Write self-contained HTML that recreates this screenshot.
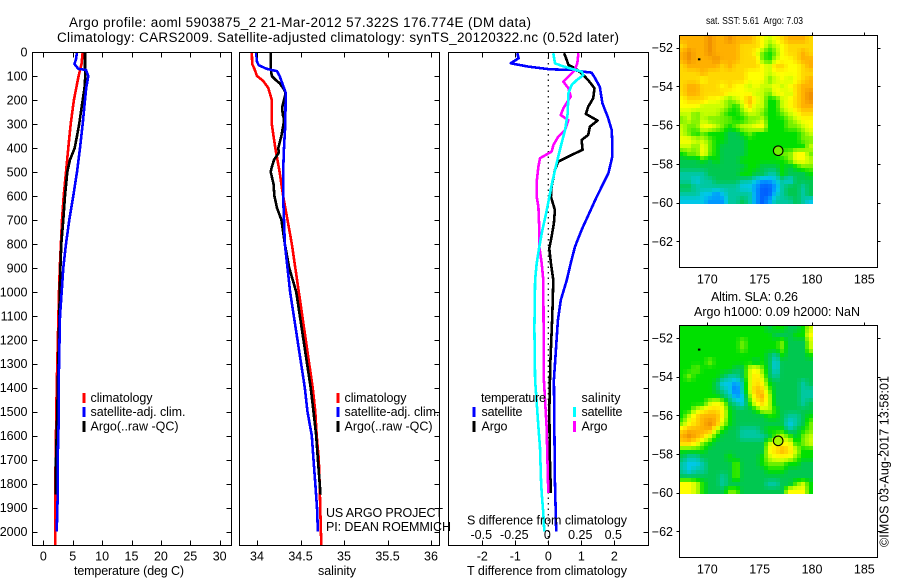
<!DOCTYPE html>
<html><head><meta charset="utf-8"><title>Argo profile</title>
<style>
html,body{margin:0;padding:0;background:#fff}
svg{display:block}
text{font-family:"Liberation Sans",sans-serif;font-size:12.5px;fill:#000}
</style></head>
<body>
<svg id="chart" width="900" height="580" viewBox="0 0 900 580" xmlns="http://www.w3.org/2000/svg">
<rect width="900" height="580" fill="#fff"/>
<text x="69" y="27" textLength="462" style="font-size:13.5px">Argo profile: aoml 5903875_2 21-Mar-2012 57.322S 176.774E (DM data)</text>
<text x="57" y="42" textLength="562" style="font-size:13.5px">Climatology: CARS2009. Satellite-adjusted climatology: synTS_20120322.nc (0.52d later)</text>
<g id="plots"></g>
<g id="maps"></g>

<text x="74" y="575" textLength="110">temperature (deg C)</text>
<text x="318" y="575" textLength="38">salinity</text>
<text x="467" y="575" textLength="160">T difference from climatology</text>
<text x="467" y="524.5" textLength="160">S difference from climatology</text>

<rect x="82.5" y="393" width="3" height="10" fill="#f00"/>
<rect x="82.5" y="407" width="3" height="10" fill="#00f"/>
<rect x="82.5" y="421" width="3" height="11" fill="#000"/>
<text x="90.5" y="402" textLength="62">climatology</text>
<text x="90.5" y="416" textLength="95">satellite-adj. clim.</text>
<text x="90.5" y="430.5" textLength="88">Argo(..raw -QC)</text>

<rect x="336.5" y="393" width="3" height="10" fill="#f00"/>
<rect x="336.5" y="407" width="3" height="10" fill="#00f"/>
<rect x="336.5" y="421" width="3" height="11" fill="#000"/>
<text x="344.5" y="402" textLength="62">climatology</text>
<text x="344.5" y="416" textLength="95">satellite-adj. clim.</text>
<text x="344.5" y="430.5" textLength="88">Argo(..raw -QC)</text>

<text x="481" y="402" textLength="65">temperature</text>
<text x="581.5" y="402" textLength="39">salinity</text>
<rect x="472.5" y="407" width="3" height="10" fill="#00f"/>
<rect x="472.5" y="421" width="3" height="11" fill="#000"/>
<rect x="573" y="407" width="3" height="10" fill="#0ff"/>
<rect x="573" y="421" width="3" height="11" fill="#f0f"/>
<text x="481.5" y="416" textLength="41">satellite</text>
<text x="481.5" y="430.5" textLength="26">Argo</text>
<text x="581.5" y="416" textLength="41">satellite</text>
<text x="581.5" y="430.5" textLength="26">Argo</text>

<text x="326" y="517" textLength="117">US ARGO PROJECT</text>
<text x="326" y="531" textLength="125">PI: DEAN ROEMMICH</text>

<text x="706" y="24" textLength="97" lengthAdjust="spacingAndGlyphs" xml:space="preserve" style="font-size:10.5px;white-space:pre">sat. SST: 5.61  Argo: 7.03</text>
<text x="711" y="301" textLength="87">Altim. SLA: 0.26</text>
<text x="694" y="316" textLength="166">Argo h1000: 0.09 h2000: NaN</text>
<text transform="translate(888.5,547) rotate(-90)" textLength="171">©IMOS 03-Aug-2017 13:58:01</text>
</svg>
<script>
// ---- depth ticks ----
const depthTicks = [0,100,200,300,400,500,600,700,800,900,1000,1100,1200,1300,1400,1500,1600,1700,1800,1900,2000];
const tempTicks = [0,5,10,15,20,25,30];
const salTicks = [34,34.5,35,35.5,36];
const salTickLabels = ['34','34.5','35','35.5','36'];
const tDiffTicks = [-2,-1,0,1,2];
const sDiffTickLabels = ['-0.5','-0.25','0','0.25','0.5'];
const sDiffTicks = [-0.5,-0.25,0,0.25,0.5];

// ---- temperature profiles (deg C) ----
const tempClimDepth = [0,50,100,200,300,400,500,600,700,800,900,1000,1400,1700,2056];
const tempClim = [6.7,6.5,6.0,5.2,4.66,4.26,3.86,3.47,3.18,3.0,2.8,2.67,2.28,2.1,2.0];
const tempSatDepth = [0,30,50,70,75,100,150,200,300,400,500,600,700,800,900,1000,1100,1400,1550,1700,1850,2000];
const tempSat = [5.73,5.56,5.3,5.95,7.26,7.65,7.3,7.1,6.7,6.24,5.73,5.1,4.43,3.86,3.4,3.13,2.84,2.6,2.6,2.45,2.45,2.28];
const tempArgoDepth = [0,75,100,150,200,250,300,350,400,450,500,600,700,800,900,1000,1500,1700,1845];
const tempArgo = [7.1,7.1,7.15,7.0,6.7,6.4,6.1,5.73,5.34,4.54,4.08,3.69,3.4,3.06,2.9,2.8,2.38,2.16,2.1];

// ---- salinity profiles ----
const salClimDepth = [0,50,70,100,120,150,200,300,350,400,500,600,700,800,900,1000,1400,1500,1600,1700,1800,2000,2056];
const salClim = [33.94,33.945,33.97,34.0,34.07,34.13,34.17,34.17,34.19,34.21,34.26,34.3,34.35,34.4,34.44,34.48,34.64,34.67,34.686,34.71,34.72,34.735,34.74];
const salSatDepth = [0,40,55,70,80,100,150,170,300,400,500,600,700,800,900,1000,1400,1500,1600,1700,1800,1900,2000];
const salSat = [33.99,34.0,34.02,34.11,34.23,34.26,34.31,34.33,34.325,34.31,34.3,34.3,34.31,34.32,34.35,34.38,34.55,34.58,34.63,34.65,34.67,34.69,34.7];
const salArgoDepth = [0,75,100,115,130,150,170,200,230,260,280,300,350,400,420,450,480,500,550,600,650,700,800,900,1000,1400,1500,1600,1700,1845];
const salArgo = [34.16,34.16,34.17,34.21,34.26,34.3,34.33,34.31,34.29,34.295,34.31,34.305,34.28,34.245,34.25,34.195,34.17,34.157,34.19,34.2,34.23,34.28,34.32,34.37,34.45,34.617,34.65,34.68,34.7,34.73];

// ---- difference profiles ----
const tDiffSatDepth = [5,26,47,61,72,75,82,86,103,145,214,270,325,381,436,506,603,742,812,881,951,1034,1118,1243,1368,1785,2000];
const tDiffSat = [-0.94,-0.9,-1.14,-0.61,0.05,0.76,1.06,1.31,1.39,1.56,1.64,1.8,1.92,1.94,1.94,1.82,1.47,1.01,0.81,0.68,0.56,0.38,0.29,0.23,0.17,0.2,0.24];
const tDiffArgoDepth = [5,26,54,68,89,117,151,193,228,258,286,311,346,367,408,429,457,492,561,603,659,714,770,819,881,951,1100,1300,1500,1700,1840];
const tDiffArgo = [0.48,0.54,0.61,0.81,1.01,1.21,1.4,1.36,1.21,1.14,1.49,1.26,1.21,1.01,1.04,0.71,0.3,0.2,0.1,0.08,0.2,0.17,0.1,0.03,0.08,0.15,0.12,0.06,0.03,0.05,0.08];
const sDiffArgoDepth = [5,47,75,89,124,151,186,235,263,284,325,353,388,415,443,478,534,603,645,742,812,881,951,1368,1563,1840];
const sDiffArgo = [0.228,0.22,0.2,0.177,0.114,0.152,0.17,0.114,0.094,0.152,0.127,0.076,0.039,0.026,-0.063,-0.075,-0.086,-0.088,-0.075,-0.068,-0.068,-0.05,-0.038,-0.033,-0.013,0.0];
const sDiffSatDepth = [5,47,58,72,82,96,117,137,172,255,325,395,464,534,603,673,742,812,881,951,1150,1368,1563,1650,1785,1840,1923,2000];
const sDiffSat = [0.038,0.051,0.102,0.19,0.253,0.266,0.215,0.177,0.152,0.147,0.127,0.094,0.063,0.033,0.008,-0.017,-0.045,-0.068,-0.088,-0.1,-0.105,-0.1,-0.075,-0.063,-0.055,-0.05,-0.038,-0.03];

// ---- map data ----
const latTicks = [-52,-54,-56,-58,-60,-62];
const lonTicks = [170,175,180,185];
const mapColors = ['#0060ff','#0098ff','#00c8e8','#00c8a0','#00c850','#00e000','#70f000','#c8ff00','#ffff00','#ffd800','#ffb000','#f09000'];
const argoProfileLon = 176.77;
const argoProfileLat = -57.32;
const sstArgoLevel = 6;
const slaArgoLevel = 6.6;
const otherFloatLon = 169.2;
const otherFloatLat = -52.6;
const sstGrid = [
[10,10,10,10,11,10,10,11,10,10,10,9,8,7,8,9,10,10,10,9],
[9,10,10,10,11,10,10,10,10,9,9,9,8,6,7,8,9,9,9,9],
[10,11,10,10,11,10,10,10,10,9,9,8,6,5,6,8,9,9,10,9],
[10,11,10,10,10,11,10,10,10,9,9,9,6,5,7,8,8,9,10,10],
[9,10,10,10,10,10,9,10,9,9,9,9,8,7,9,9,8,8,9,10],
[9,9,9,10,9,9,9,9,9,9,8,8,8,7,8,8,8,8,9,9],
[9,9,9,8,9,9,9,9,9,9,8,8,8,6,7,8,7,8,9,10],
[9,10,10,9,9,9,8,9,8,8,7,8,7,7,8,7,8,9,10,10],
[9,10,10,9,9,9,9,8,8,8,8,7,7,6,8,8,7,9,10,11],
[8,9,9,9,8,8,7,6,7,8,10,8,7,5,5,7,8,9,10,11],
[8,8,8,7,7,7,7,6,5,7,9,7,7,5,5,7,8,9,10,10],
[7,7,6,7,7,7,6,5,5,6,7,7,6,5,5,6,7,8,9,9],
[6,7,6,7,6,6,6,6,5,5,6,6,7,5,5,5,6,7,8,8],
[7,6,6,8,8,7,6,5,6,7,7,8,8,5,5,5,6,6,7,8],
[7,6,5,6,5,5,5,4,4,5,6,5,5,5,5,5,5,5,6,7],
[8,8,7,7,6,5,5,4,4,4,5,5,5,5,5,5,5,5,6,6],
[7,7,6,8,6,5,4,4,4,4,5,5,5,5,5,5,5,5,5,7],
[5,6,6,8,6,5,4,4,4,4,5,5,5,5,5,6,6,8,8,6],
[4,4,4,5,4,5,4,4,4,5,5,5,5,5,5,5,6,8,8,7],
[4,4,4,4,4,4,4,4,4,4,5,5,4,4,4,5,4,5,6,6],
[3,3,3,3,4,4,4,4,4,5,5,4,4,3,3,5,4,4,4,5],
[3,3,2,3,3,4,4,4,4,3,3,2,1,1,2,3,2,4,4,4],
[4,4,3,3,3,3,3,3,3,2,2,1,0,0,1,3,4,4,3,4],
[3,3,3,2,2,1,2,3,3,3,3,1,0,0,2,3,4,4,3,4],
[2,2,2,2,1,1,1,3,3,4,3,1,0,1,3,3,3,4,3,2]
];
const slaGrid = [
[5,5,5,5,5,5,5,5,5,5,5,5,5,4,5,5,4,4,5,7],
[5,5,5,5,5,5,5,5,5,5,5,5,5,5,4,4,4,5,5,8],
[5,5,5,5,5,5,5,5,5,6,5,5,5,5,5,6,4,4,4,7],
[5,5,5,5,5,5,5,5,5,6,5,5,5,5,5,6,4,4,4,7],
[5,5,5,5,5,5,5,5,5,5,5,5,5,4,3,5,4,4,4,5],
[5,5,5,5,6,5,5,5,5,5,5,4,5,4,2,4,4,4,4,4],
[5,5,6,5,5,5,5,5,4,4,7,8,6,4,2,4,4,4,4,4],
[5,6,5,5,5,5,4,3,3,4,7,9,7,4,3,4,4,4,4,4],
[5,5,5,5,5,4,2,2,1,3,7,9,8,5,4,4,4,4,3,4],
[5,5,5,5,5,4,3,2,0,3,7,10,9,6,4,4,4,4,3,3],
[5,5,5,5,5,5,4,3,1,2,6,9,10,7,4,4,4,4,3,3],
[5,5,5,5,7,8,7,4,3,2,5,8,9,7,4,4,4,4,3,4],
[5,5,7,8,9,9,8,5,4,4,4,5,7,7,5,4,4,4,4,4],
[5,7,9,10,10,10,8,5,4,4,4,4,4,5,5,4,3,3,4,5],
[6,8,9,10,11,10,7,5,4,4,4,4,4,4,4,4,2,3,4,6],
[9,10,10,10,10,7,5,4,4,3,3,3,4,5,5,5,3,4,5,6],
[10,11,10,9,7,5,4,4,4,3,3,3,3,4,6,7,6,4,6,7],
[9,9,8,6,5,4,4,4,4,4,4,4,4,7,8,8,8,5,6,7],
[5,5,5,5,4,4,4,4,4,4,4,4,4,8,9,10,9,7,5,5],
[4,3,3,4,4,4,4,5,4,4,4,4,5,7,8,8,8,6,5,5],
[3,2,2,3,4,4,4,4,6,4,4,4,5,6,6,6,5,5,4,4],
[3,2,3,3,4,4,4,4,6,4,4,4,4,5,5,5,4,4,4,4],
[4,4,4,4,4,4,3,4,6,4,4,4,4,4,4,4,4,4,4,4],
[8,8,7,5,4,4,3,4,4,4,4,4,4,3,3,4,4,6,7,5],
[8,8,7,5,4,4,4,6,6,4,4,4,4,4,4,4,8,8,8,5]
];

const NS = 'http://www.w3.org/2000/svg';
const plots = document.getElementById('plots');
const maps = document.getElementById('maps');

// ---- axis functions ----
const depthY = d => 52 + d * 0.2398;
const tempX = t => 43.3 + t * 5.88;
const salX = s => 257 + (s - 34) * 87;
const tDiffX = t => 548.3 + t * 33;
const sDiffX = s => 548.3 + s * 132;
const lonX = lon => 707.3 + (lon - 170) * 10.47;
const lat1Y = lat => 47.7 + (-52 - lat) * 19.36;
const lat2Y = lat => 338 + (-52 - lat) * 19.33;
const gridLonMin = 167.33, gridLonMax = 180.07, gridLatMax1 = -51.38, gridLatMax2 = -51.34, gridLatMin = -60.08;
const renderCols = 33, renderRows = 42;

function addFrame(parent, name, x, y, w, h) {
  const r = document.createElementNS(NS, 'rect');
  
  
  r.setAttribute('x', x + 0.5);
  r.setAttribute('y', y + 0.5);
  r.setAttribute('width', w);
  r.setAttribute('height', h);
  r.setAttribute('fill', 'none');
  r.setAttribute('stroke', '#000');
  r.setAttribute('shape-rendering', 'crispEdges');
  parent.appendChild(r);
}
function addTick(parent, name, x1, y1, x2, y2) {
  const l = document.createElementNS(NS, 'line');
  
  
  l.setAttribute('x1', Math.round(x1) + 0.5);
  l.setAttribute('y1', Math.round(y1) + 0.5);
  l.setAttribute('x2', Math.round(x2) + 0.5);
  l.setAttribute('y2', Math.round(y2) + 0.5);
  l.setAttribute('stroke', '#000');
  l.setAttribute('shape-rendering', 'crispEdges');
  parent.appendChild(l);
}
function addLabel(parent, name, str, x, y, anchor) {
  const t = document.createElementNS(NS, 'text');
  
  
  t.setAttribute('x', x);
  t.setAttribute('y', y);
  t.setAttribute('text-anchor', anchor);
  t.textContent = str;
  parent.appendChild(t);
}
function addSeries(parent, name, color, depths, vals, xFn) {
  const p = document.createElementNS(NS, 'polyline');
  
  
  p.setAttribute('fill', 'none');
  p.setAttribute('stroke', color);
  p.setAttribute('stroke-width', '2.6');
  p.setAttribute('stroke-linejoin', 'round');
  p.setAttribute('shape-rendering', 'crispEdges');
  p.setAttribute('points', depths.map((d, i) => xFn(vals[i]).toFixed(1) + ',' + depthY(d).toFixed(1)).join(' '));
  parent.appendChild(p);
}

// panel series
addSeries(plots, 'temperature-climatology-line', '#f00', tempClimDepth, tempClim, tempX);
addSeries(plots, 'temperature-argo-line', '#000', tempArgoDepth, tempArgo, tempX);
addSeries(plots, 'temperature-satellite-line', '#00f', tempSatDepth, tempSat, tempX);
addSeries(plots, 'salinity-climatology-line', '#f00', salClimDepth, salClim, salX);
addSeries(plots, 'salinity-argo-line', '#000', salArgoDepth, salArgo, salX);
addSeries(plots, 'salinity-satellite-line', '#00f', salSatDepth, salSat, salX);

// zero line
const zeroLine = document.createElementNS(NS, 'line');


zeroLine.setAttribute('x1', tDiffX(0));
zeroLine.setAttribute('x2', tDiffX(0));
zeroLine.setAttribute('y1', 52);
zeroLine.setAttribute('y2', 545);
zeroLine.setAttribute('stroke', '#000');
zeroLine.setAttribute('stroke-dasharray', '1.5 4');
zeroLine.setAttribute('stroke-width', '1.2');
plots.appendChild(zeroLine);

addSeries(plots, 't-difference-satellite-line', '#00f', tDiffSatDepth, tDiffSat, tDiffX);
addSeries(plots, 't-difference-argo-line', '#000', tDiffArgoDepth, tDiffArgo, tDiffX);
addSeries(plots, 's-difference-argo-line', '#f0f', sDiffArgoDepth, sDiffArgo, sDiffX);
addSeries(plots, 's-difference-satellite-line', '#0ff', sDiffSatDepth, sDiffSat, sDiffX);

// panel frames
addFrame(plots, 'temperature-plot-frame', 32, 52, 199, 493);
addFrame(plots, 'salinity-plot-frame', 239, 52, 200, 493);
addFrame(plots, 'difference-plot-frame', 448, 52, 200, 493);

// depth ticks
depthTicks.forEach(d => {
  const y = depthY(d);
  addTick(plots, 'depth-tick-left', 32, y, 37, y);
  addTick(plots, 'depth-tick-right', 226, y, 231, y);
  addTick(plots, 'salinity-depth-tick-right', 434, y, 439, y);
  addTick(plots, 'difference-depth-tick-right', 643, y, 648, y);
  addLabel(plots, 'depth-label', String(d), 27.5, y + 4.5, 'end');
});
tempTicks.forEach(t => {
  const x = tempX(t);
  addTick(plots, 'temperature-tick-top', x, 52, x, 57);
  addTick(plots, 'temperature-tick-bottom', x, 540, x, 545);
  addLabel(plots, 'temperature-tick-label', String(t), x, 560.5, 'middle');
});
salTicks.forEach((s, i) => {
  const x = salX(s);
  addTick(plots, 'salinity-tick-top', x, 52, x, 57);
  addTick(plots, 'salinity-tick-bottom', x, 540, x, 545);
  addLabel(plots, 'salinity-tick-label', salTickLabels[i], x, 560.5, 'middle');
});
tDiffTicks.forEach(t => {
  const x = tDiffX(t);
  addTick(plots, 't-difference-tick-top', x, 52, x, 57);
  addTick(plots, 't-difference-tick-bottom', x, 540, x, 545);
  addLabel(plots, 't-difference-tick-label', String(t), x, 560.5, 'middle');
});
sDiffTicks.forEach((s, i) => {
  addLabel(plots, 's-difference-tick-label', sDiffTickLabels[i], sDiffX(s) - 1, 539, 'middle');
});

// maps
function hexRgb(h) {
  return [parseInt(h.slice(1, 3), 16), parseInt(h.slice(3, 5), 16), parseInt(h.slice(5, 7), 16)];
}
function levelColor(v) {
  const top = mapColors.length - 1;
  const c = Math.max(0, Math.min(top, v));
  const i = Math.min(top - 1, Math.floor(c));
  const f = c - i;
  const a = hexRgb(mapColors[i]), b = hexRgb(mapColors[i + 1]);
  return 'rgb(' + a.map((q, k) => Math.round(q + (b[k] - q) * f)).join(',') + ')';
}
function sampleGrid(grid, rowPos, colPos) {
  const rows = grid.length, cols = grid[0].length;
  const r = Math.max(0, Math.min(rows - 1, rowPos)), c = Math.max(0, Math.min(cols - 1, colPos));
  const r0 = Math.floor(r), c0 = Math.floor(c);
  const r1 = Math.min(rows - 1, r0 + 1), c1 = Math.min(cols - 1, c0 + 1);
  const fr = r - r0, fc = c - c0;
  return (grid[r0][c0] * (1 - fc) + grid[r0][c1] * fc) * (1 - fr) + (grid[r1][c0] * (1 - fc) + grid[r1][c1] * fc) * fr;
}
function drawMap(prefix, grid, latY, gridLatMax, argoLevel, frameTop, frameBottom) {
  const g = document.createElementNS(NS, 'g');
  
  
  const rows = grid.length, cols = grid[0].length;
  const dLon = (gridLonMax - gridLonMin) / renderCols, dLat = (gridLatMax - gridLatMin) / renderRows;
  for (let r = 0; r < renderRows; r++) {
    for (let c = 0; c < renderCols; c++) {
      const x0 = Math.round(lonX(gridLonMin + c * dLon)), x1 = Math.round(lonX(gridLonMin + (c + 1) * dLon));
      const y0 = Math.round(latY(gridLatMax - r * dLat)), y1 = Math.round(latY(gridLatMax - (r + 1) * dLat));
      const v = sampleGrid(grid, (r + 0.5) / renderRows * rows - 0.5, (c + 0.5) / renderCols * cols - 0.5);
      const cell = document.createElementNS(NS, 'rect');
      
      
      cell.setAttribute('x', x0);
      cell.setAttribute('y', y0);
      cell.setAttribute('width', x1 - x0);
      cell.setAttribute('height', y1 - y0);
      cell.setAttribute('fill', levelColor(v));
      cell.setAttribute('shape-rendering', 'crispEdges');
      g.appendChild(cell);
    }
  }
  maps.appendChild(g);
  addFrame(maps, prefix + '-frame', 679, frameTop, 198, frameBottom - frameTop);
  latTicks.forEach(lat => {
    const y = latY(lat);
    addTick(maps, prefix + '-lat-tick-left', 676, y, 679, y);
    addTick(maps, prefix + '-lat-tick-right', 877, y, 880, y);
    addLabel(maps, prefix + '-lat-label', '\u2212' + Math.abs(lat), 673, y + 4.5, 'end');
  });
  lonTicks.forEach(lon => {
    const x = lonX(lon);
    addTick(maps, prefix + '-lon-tick-top', x, frameTop - 3, x, frameTop);
    addLabel(maps, prefix + '-lon-label', String(lon), x, frameBottom + 16.5, 'middle');
  });
  const dot = document.createElementNS(NS, 'rect');
  
  
  dot.setAttribute('x', lonX(otherFloatLon) - 1);
  dot.setAttribute('y', latY(otherFloatLat) - 1);
  dot.setAttribute('width', 2.5);
  dot.setAttribute('height', 2);
  dot.setAttribute('fill', '#000');
  maps.appendChild(dot);
  const circ = document.createElementNS(NS, 'circle');
  
  
  circ.setAttribute('cx', lonX(argoProfileLon));
  circ.setAttribute('cy', latY(argoProfileLat));
  circ.setAttribute('r', 4.8);
  circ.setAttribute('fill', levelColor(argoLevel));
  circ.setAttribute('stroke', '#000');
  circ.setAttribute('stroke-width', '1.1');
  maps.appendChild(circ);
}
drawMap('sst-map', sstGrid, lat1Y, gridLatMax1, sstArgoLevel, 35, 267);
drawMap('sla-map', slaGrid, lat2Y, gridLatMax2, slaArgoLevel, 325, 557);
</script>
</body></html>
